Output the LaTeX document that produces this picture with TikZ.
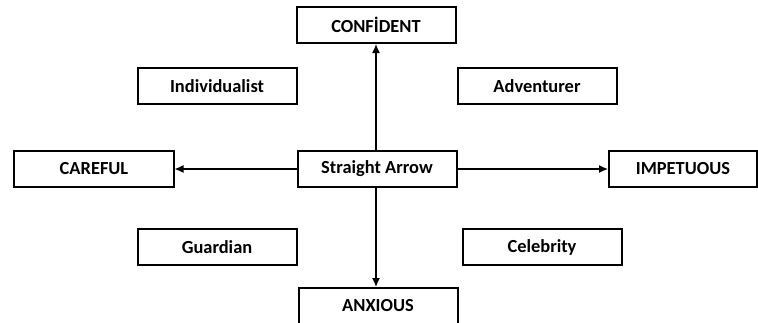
\documentclass[tikz,border=0pt]{standalone}
\usepackage{fontspec}
\setmainfont{Carlito}
\usepackage{tikz}
\usetikzlibrary{arrows.meta}
\tikzset{->, >={Latex[length=9bp,width=8bp]}, font=\bfseries\fontsize{18.5}{22}\selectfont}
\tikzset{tbox/.style={shape=rectangle, draw, fill=white, line width=2bp,
    inner sep=0pt, minimum width=159bp, minimum height=36bp}}

\begin{document}
\begin{tikzpicture}[x=1bp,y=-1bp]
    \useasboundingbox (0,0) rectangle (758,322);
    \node[tbox] (conf) at (376,25) {CONFİDENT};
    \node[tbox] (indiv) at (217,86) {Individualist};
    \node[tbox] (adven) at (537,86) {Adventurer};
    \node[tbox] (care) at (94,169) {CAREFUL};
    \node[tbox] (sa) at (377,169) {Straight Arrow};
    \node[tbox, minimum width=148bp] (impet) at (683,169) {IMPETUOUS};
    \node[tbox] (guard) at (217,247) {Guardian};
    \node[tbox] (celeb) at (542,247) {Celebrity};
    \node[tbox] (anx) at (378,306) {ANXIOUS};
    \path[line width=1.3bp] (sa.north -| conf) edge (conf.south);
    \path[line width=1.3bp] (sa.west) edge (care.east);
    \path[line width=1.3bp] (sa.east) edge (impet.west);
    \path[line width=1.3bp] (sa.south -| conf) edge (anx.north -| conf);
  \end{tikzpicture}
\end{document}
